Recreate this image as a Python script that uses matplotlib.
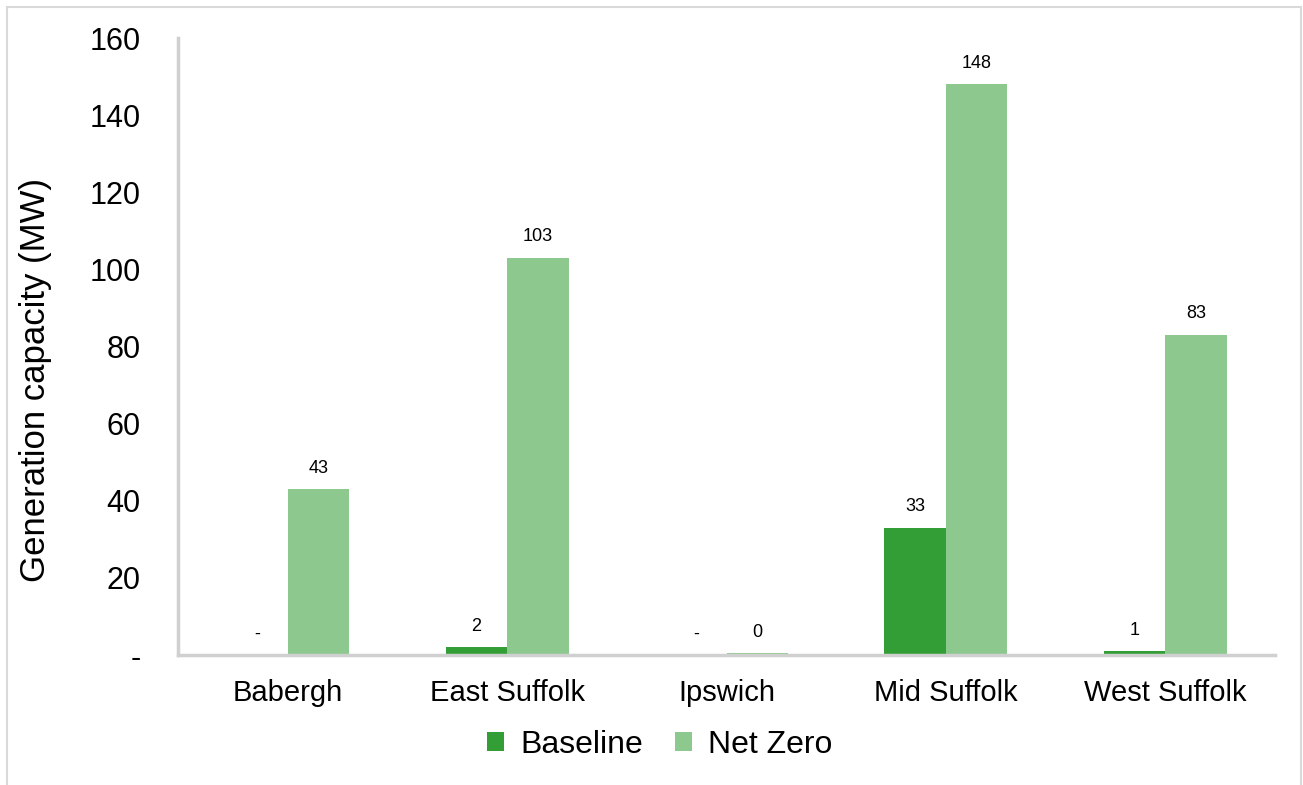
import numpy as np
import matplotlib.pyplot as plt
from matplotlib.patches import Rectangle

plt.rcParams['font.family'] = ['Liberation Sans', 'DejaVu Sans']

districts = ['Babergh', 'East Suffolk', 'Ipswich', 'Mid Suffolk', 'West Suffolk']
baseline = [0, 2, 0, 33, 1]
net_zero = [43, 103, 0.4, 148, 83]
baseline_labels = ['-', '2', '-', '33', '1']
net_zero_labels = ['43', '103', '0', '148', '83']

dark = '#339e35'
light = '#8dc98f'
grey = '#d0d0d0'

fig = plt.figure(figsize=(13.03, 7.85), dpi=100)
ax = fig.add_axes([178 / 1303, 130 / 785, 1097 / 1303, 617 / 785])

x = np.arange(len(districts))
w = 0.28
b1 = ax.bar(x - w / 2, baseline, w, color=dark, label='Baseline')
b2 = ax.bar(x + w / 2, net_zero, w, color=light, label='Net Zero')

for bars, labels in ((b1, baseline_labels), (b2, net_zero_labels)):
    for rect, lab in zip(bars, labels):
        ax.annotate(lab, (rect.get_x() + rect.get_width() / 2, rect.get_height()),
                    xytext=(0, 9), textcoords='offset points',
                    ha='center', va='bottom', fontsize=13)

ax.set_xlim(-0.5, 4.5)
ax.set_ylim(0, 160)
ax.set_yticks(range(0, 161, 20))
ax.set_yticklabels(['-'] + [str(v) for v in range(20, 161, 20)], fontsize=22)
ax.set_xticks(x)
ax.set_xticklabels(districts, fontsize=21)
ax.tick_params(axis='y', length=0, pad=27)
ax.tick_params(axis='x', length=0, pad=17)
ax.set_ylabel('Generation capacity (MW)', fontsize=25)
ax.yaxis.set_label_coords(-0.130, 0.446)
ax.yaxis.label.set_va('center')

for side in ('top', 'right'):
    ax.spines[side].set_visible(False)
for side in ('left', 'bottom'):
    ax.spines[side].set_color(grey)
    ax.spines[side].set_linewidth(2.5)

ax.legend(loc='center', bbox_to_anchor=(0.439, -0.146), ncol=2, frameon=False,
          fontsize=23, handlelength=0.55, handleheight=0.55, handletextpad=0.5,
          columnspacing=1.0)

# outer frame
fig.patches.append(Rectangle((7 / 1303, -0.1), 1294 / 1303, 1.1 - 7 / 785,
                             transform=fig.transFigure, fill=False,
                             edgecolor='#d9d9d9', linewidth=1.5))

fig.savefig('out.png', dpi=100)
